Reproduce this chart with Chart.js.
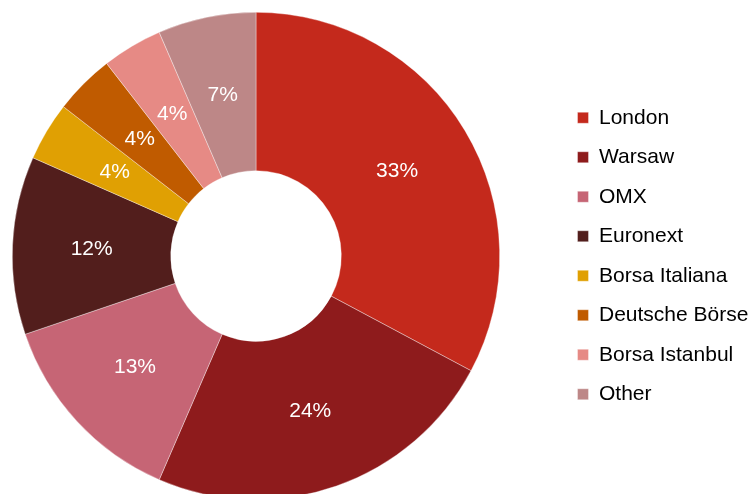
<!DOCTYPE html>
<html>
<head>
<meta charset="utf-8">
<script src="https://cdn.jsdelivr.net/npm/chart.js@4.4.1/dist/chart.umd.min.js"></script>
<style>
  html, body { margin: 0; padding: 0; background: #fff; overflow: hidden; }
  #wrap { position: relative; width: 749px; height: 512px; }
</style>
</head>
<body>
<div id="wrap"><canvas id="chart"></canvas></div>
<script>
const exchanges = ["London", "Warsaw", "OMX", "Euronext", "Borsa Italiana", "Deutsche Börse", "Borsa Istanbul", "Other"];
const shares = [32.8, 23.7, 13.3, 11.8, 3.9, 4.0, 4.0, 6.5];
const sliceColors = ["#C4291C", "#8E1B1C", "#C66575", "#521E1C", "#E0A003", "#C05B00", "#E68A85", "#BD8787"];

const FONT = "'Liberation Sans', Arial, sans-serif";

// percent labels in the middle of each slice
const sliceLabels = {
  id: "sliceLabels",
  afterDatasetsDraw(chart) {
    const { ctx } = chart;
    const meta = chart.getDatasetMeta(0);
    const total = shares.reduce((a, b) => a + b, 0);
    ctx.save();
    ctx.font = "21px " + FONT;
    ctx.fillStyle = "#fff";
    ctx.textAlign = "center";
    ctx.textBaseline = "middle";
    meta.data.forEach((arc, i) => {
      const p = arc.tooltipPosition();
      ctx.fillText(Math.round(shares[i] / total * 100) + "%", p.x, p.y);
    });
    ctx.restore();
  }
};

// fixed legend column on the right, set a bit away from the ring
const legendSpace = {
  id: "legendSpace",
  beforeLayout(chart) {
    const legend = chart.legend;
    if (!legend || legend._fixedWidth) return;
    const fit = legend.fit;
    legend.fit = function () {
      fit.call(this);
      this.width = 249;
    };
    legend._fixedWidth = true;
  },
  afterLayout(chart) {
    chart.legend.left += 59;
    chart.legend.right += 59;
  }
};

new Chart(document.getElementById("chart"), {
  type: "doughnut",
  data: {
    labels: exchanges,
    datasets: [{
      data: shares,
      backgroundColor: sliceColors,
      borderColor: "rgba(255,255,255,0.6)",
      borderWidth: 0.6,
    }],
  },
  options: {
    responsive: true,
    maintainAspectRatio: false,
    animation: false,
    cutout: "35%",
    layout: { padding: { top: 12, bottom: 12, left: 12, right: 0 } },
    plugins: {
      tooltip: { enabled: false },
      legend: {
        position: "right",
        labels: {
          boxWidth: 11,
          boxHeight: 11,
          padding: 18.5,
          color: "#000",
          font: { size: 21, family: FONT },
        },
      },
    },
  },
  plugins: [sliceLabels, legendSpace],
});
</script>
</body>
</html>
